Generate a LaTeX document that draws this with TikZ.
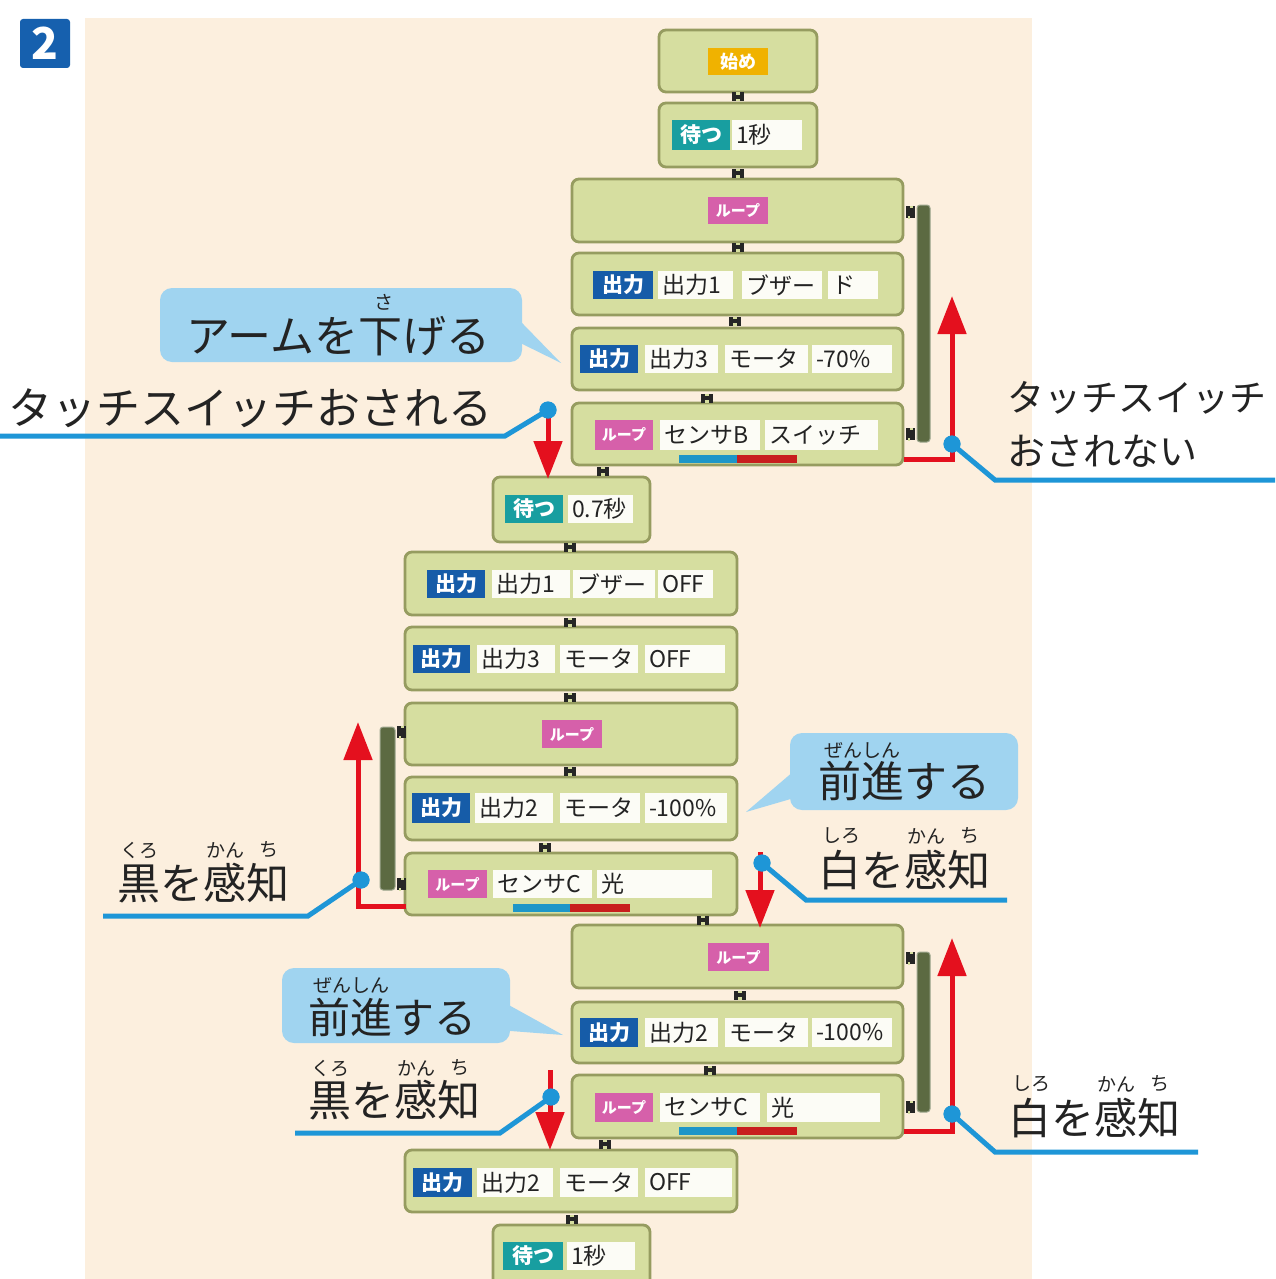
\documentclass[tikz,border=0pt]{standalone}
\usepackage{fontspec}
\newfontfamily\jp{Noto Sans CJK JP}
\usetikzlibrary{arrows.meta,calc}
\definecolor{bgbeige}{RGB}{252,239,222}
\definecolor{blkfill}{RGB}{214,222,160}
\definecolor{blkdraw}{RGB}{150,156,96}
\definecolor{barcol}{RGB}{92,106,66}
\definecolor{outblue}{RGB}{22,92,168}
\definecolor{looppink}{RGB}{214,96,170}
\definecolor{waitteal}{RGB}{24,158,160}
\definecolor{startorg}{RGB}{240,178,0}
\definecolor{valwhite}{RGB}{252,252,246}
\definecolor{txtgray}{RGB}{35,35,35}
\definecolor{calloutblue}{RGB}{160,212,240}
\definecolor{lineblue}{RGB}{30,150,215}
\definecolor{arrred}{RGB}{228,16,30}
\definecolor{badgeblue}{RGB}{22,96,174}
\definecolor{sbarblue}{RGB}{30,150,200}
\definecolor{sbarred}{RGB}{200,30,30}

\newcommand{\blockn}[5]{%
  \pgfmathsetmacro{\qqW}{#4-#2}\pgfmathsetmacro{\qqH}{#5-#3}%
  \pgfmathsetmacro{\qqX}{(#2+#4)/2}\pgfmathsetmacro{\qqY}{(#3+#5)/2}%
  \node[blk, minimum width=\qqW pt, minimum height=\qqH pt] (#1) at (\qqX,\qqY) {};}
\newcommand{\tagn}[7]{%
  \pgfmathsetmacro{\qqW}{#3-#2}\pgfmathsetmacro{\qqH}{#5-#4}%
  \pgfmathsetmacro{\qqX}{(#2+#3)/2}\pgfmathsetmacro{\qqY}{(#4+#5)/2}%
  \node[tagb, fill=#6, minimum width=\qqW pt, minimum height=\qqH pt] (#1) at (\qqX,\qqY) {#7};}
\newcommand{\valn}[6]{%
  \pgfmathsetmacro{\qqW}{#3-#2-8}\pgfmathsetmacro{\qqH}{#5-#4}%
  \pgfmathsetmacro{\qqX}{(#2+#3)/2}\pgfmathsetmacro{\qqY}{(#4+#5)/2}%
  \node[valb, text width=\qqW pt, minimum height=\qqH pt] (#1) at (\qqX,\qqY) {#6};}
\newcommand{\rectn}[6]{%
  \pgfmathsetmacro{\qqW}{#3-#2}\pgfmathsetmacro{\qqH}{#5-#4}%
  \pgfmathsetmacro{\qqX}{(#2+#3)/2}\pgfmathsetmacro{\qqY}{(#4+#5)/2}%
  \node[#6, minimum width=\qqW pt, minimum height=\qqH pt] (#1) at (\qqX,\qqY) {};}

\begin{document}
\begin{tikzpicture}[x=1pt,y=-1pt,
  blk/.style={draw=blkdraw, line width=2.8pt, fill=blkfill, rounded corners=7pt, inner sep=0pt},
  tagb/.style={text=white, inner sep=0pt, font=\jp\bfseries\fontsize{21}{22}\selectfont},
  valb/.style={fill=valwhite, inner xsep=4pt, inner ysep=0pt, align=left, text=txtgray, font=\jp\fontsize{23}{25}\selectfont},
  hc/.style={fill=black!85, minimum width=12pt, minimum height=9pt, inner sep=0pt,
    path picture={\fill[blkfill] ($(path picture bounding box.north)+(-2,0)$) rectangle ($(path picture bounding box.north)+(2,2.5)$);
                  \fill[blkfill] ($(path picture bounding box.south)+(-2,0)$) rectangle ($(path picture bounding box.south)+(2,-2.5)$);}},
  loopbar/.style={fill=barcol, draw=barcol!60!white, line width=1pt, rounded corners=3pt, inner sep=0pt},
  sbarb/.style={fill=sbarblue, inner sep=0pt},
  sbarr/.style={fill=sbarred, inner sep=0pt},
  callout/.style={fill=calloutblue, rounded corners=12pt, inner sep=0pt},
  redarr/.style={draw=arrred, line width=5pt, -{Triangle[width=28pt,length=38pt]}},
  leader/.style={draw=lineblue, line width=5pt},
  ldot/.style={circle, fill=lineblue, minimum size=17pt, inner sep=0pt},
  bigtxt/.style={anchor=west, inner sep=0pt, text=txtgray},
  furi/.style={inner sep=0pt, text=txtgray, font=\jp\fontsize{19}{20}\selectfont}
]
\useasboundingbox (0,0) rectangle (1275,1279);
\fill[white] (0,0) rectangle (1275,1279);
\fill[bgbeige] (85,18) rectangle (1032,1279);

% badge
\node[fill=badgeblue, rounded corners=3pt, minimum width=50pt, minimum height=49pt, inner sep=0pt,
  text=white, font=\jp\bfseries\fontsize{44}{46}\selectfont] (badge) at (45,43.5) {2};

% callouts
\rectn{co1}{160}{522}{288}{362}{callout}
\rectn{co2}{790}{1018}{733}{810}{callout}
\rectn{co3}{282}{510}{968}{1043}{callout}
\coordinate (tip1) at (561,363);
\coordinate (tip2) at (746,812);
\coordinate (tip3) at (563,1035);
\fill[calloutblue] ($(co1.east)+(-6,-8)$) -- (tip1) -- ($(co1.east)+(-6,16)$) -- cycle;
\fill[calloutblue] ($(co2.west)+(6,-2)$) -- (tip2) -- ($(co2.west)+(6,26)$) -- cycle;
\fill[calloutblue] ($(co3.east)+(-6,-3)$) -- (tip3) -- ($(co3.east)+(-6,25)$) -- cycle;

% loop bars
\rectn{lb1}{917}{930}{205}{442}{loopbar}
\rectn{lb2}{380}{395}{727}{890}{loopbar}
\rectn{lb3}{917}{930}{952}{1112}{loopbar}

% blocks
\blockn{b1}{659}{30}{817}{92}
\tagn{t1}{708}{768}{48}{75}{startorg}{\fontsize{18}{19}\selectfont 始め}
\blockn{b2}{659}{103}{817}{167}
\tagn{t2}{672}{730}{120}{150}{waitteal}{待つ}
\valn{v2}{732}{802}{120}{150}{1秒}
\blockn{b3}{572}{179}{903}{242}
\tagn{t3}{708}{768}{197}{224}{looppink}{\fontsize{15}{16}\selectfont ループ}
\blockn{b4}{572}{253}{903}{315}
\tagn{t4}{593}{653}{271}{299}{outblue}{出力}
\valn{v4a}{658}{733}{271}{299}{出力1}
\valn{v4b}{742}{822}{271}{299}{ブザー}
\valn{v4c}{828}{878}{271}{299}{ド}
\blockn{b5}{572}{328}{903}{390}
\tagn{t5}{580}{638}{345}{373}{outblue}{出力}
\valn{v5a}{645}{718}{345}{373}{出力3}
\valn{v5b}{725}{808}{345}{373}{モータ}
\valn{v5c}{812}{892}{345}{373}{-70\%}
\blockn{b6}{572}{403}{903}{465}
\tagn{t6}{595}{653}{420}{450}{looppink}{\fontsize{15}{16}\selectfont ループ}
\valn{v6a}{660}{760}{420}{450}{センサB}
\valn{v6b}{765}{878}{420}{450}{スイッチ}
\rectn{s6a}{679}{737}{455}{463}{sbarb}
\rectn{s6b}{737}{797}{455}{463}{sbarr}
\blockn{b7}{493}{477}{650}{542}
\tagn{t7}{505}{563}{495}{523}{waitteal}{待つ}
\valn{v7}{568}{633}{495}{523}{0.7秒}
\blockn{b8}{405}{552}{737}{615}
\tagn{t8}{427}{485}{570}{598}{outblue}{出力}
\valn{v8a}{492}{570}{570}{598}{出力1}
\valn{v8b}{573}{655}{570}{598}{ブザー}
\valn{v8c}{658}{713}{570}{598}{OFF}
\blockn{b9}{405}{627}{737}{690}
\tagn{t9}{413}{470}{645}{673}{outblue}{出力}
\valn{v9a}{477}{555}{645}{673}{出力3}
\valn{v9b}{560}{638}{645}{673}{モータ}
\valn{v9c}{645}{725}{645}{673}{OFF}
\blockn{b10}{405}{703}{737}{765}
\tagn{t10}{542}{602}{720}{748}{looppink}{\fontsize{15}{16}\selectfont ループ}
\blockn{b11}{405}{777}{737}{840}
\tagn{t11}{412}{470}{793}{823}{outblue}{出力}
\valn{v11a}{475}{553}{793}{823}{出力2}
\valn{v11b}{560}{640}{793}{823}{モータ}
\valn{v11c}{645}{727}{793}{823}{-100\%}
\blockn{b12}{405}{853}{737}{915}
\tagn{t12}{428}{487}{870}{898}{looppink}{\fontsize{15}{16}\selectfont ループ}
\valn{v12a}{493}{592}{870}{898}{センサC}
\valn{v12b}{597}{712}{870}{898}{光}
\rectn{s12a}{513}{570}{904}{912}{sbarb}
\rectn{s12b}{570}{630}{904}{912}{sbarr}
\blockn{b13}{572}{925}{903}{988}
\tagn{t13}{708}{769}{943}{971}{looppink}{\fontsize{15}{16}\selectfont ループ}
\blockn{b14}{572}{1002}{903}{1063}
\tagn{t14}{580}{638}{1018}{1047}{outblue}{出力}
\valn{v14a}{645}{718}{1018}{1047}{出力2}
\valn{v14b}{725}{808}{1018}{1047}{モータ}
\valn{v14c}{812}{892}{1018}{1047}{-100\%}
\blockn{b15}{572}{1075}{903}{1138}
\tagn{t15}{595}{653}{1093}{1122}{looppink}{\fontsize{15}{16}\selectfont ループ}
\valn{v15a}{660}{760}{1093}{1122}{センサC}
\valn{v15b}{767}{880}{1093}{1122}{光}
\rectn{s15a}{679}{737}{1127}{1135}{sbarb}
\rectn{s15b}{737}{797}{1127}{1135}{sbarr}
\blockn{b16}{405}{1150}{737}{1212}
\tagn{t16}{413}{472}{1168}{1197}{outblue}{出力}
\valn{v16a}{477}{553}{1168}{1197}{出力2}
\valn{v16b}{560}{638}{1168}{1197}{モータ}
\valn{v16c}{645}{732}{1168}{1197}{OFF}
\blockn{b17}{493}{1225}{650}{1300}
\tagn{t17}{503}{563}{1242}{1270}{waitteal}{待つ}
\valn{v17}{567}{635}{1242}{1270}{1秒}

% block connectors
\node[hc] (c1) at (738,97) {};
\node[hc] (c2) at (738,173) {};
\node[hc] (c3) at (738,247) {};
\node[hc] (c4) at (735,321) {};
\node[hc] (c5) at (707,398) {};
\node[hc] (c6) at (603,471) {};
\node[hc] (c7) at (570,547) {};
\node[hc] (c8) at (570,622) {};
\node[hc] (c9) at (570,697) {};
\node[hc] (c10) at (570,771) {};
\node[hc] (c11) at (545,847) {};
\node[hc] (c12) at (703,920) {};
\node[hc] (c13) at (740,995) {};
\node[hc] (c14) at (710,1070) {};
\node[hc] (c15) at (605,1144) {};
\node[hc] (c16) at (572,1219) {};
% loop nubs
\node[hc, rotate=90] (n1) at (910,212) {};
\node[hc, rotate=90] (n2) at (910,434) {};
\node[hc, rotate=90] (n3) at (401,732) {};
\node[hc, rotate=90] (n4) at (401,884) {};
\node[hc, rotate=90] (n5) at (910,958) {};
\node[hc, rotate=90] (n6) at (910,1107) {};

% red arrows
\coordinate (ra1s) at (904,459); \coordinate (ra1c) at (952,459); \coordinate (ra1e) at (952,296);
\draw[redarr] (ra1s) -- (ra1c) -- (ra1e);
\coordinate (ra2s) at (548,405); \coordinate (ra2e) at (548,479);
\draw[redarr] (ra2s) -- (ra2e);
\coordinate (ra3s) at (406,906); \coordinate (ra3c) at (358,906); \coordinate (ra3e) at (358,722);
\draw[redarr] (ra3s) -- (ra3c) -- (ra3e);
\coordinate (ra4s) at (760,852); \coordinate (ra4e) at (760,928);
\draw[redarr] (ra4s) -- (ra4e);
\coordinate (ra5s) at (904,1131); \coordinate (ra5c) at (952,1131); \coordinate (ra5e) at (952,938);
\draw[redarr] (ra5s) -- (ra5c) -- (ra5e);
\coordinate (ra6s) at (550,1070); \coordinate (ra6e) at (550,1150);
\draw[redarr] (ra6s) -- (ra6e);

% blue leaders
\node[ldot] (d1) at (548,410) {};
\coordinate (l1a) at (505,436); \coordinate (l1b) at (0,436);
\draw[leader] (d1.center) -- (l1a) -- (l1b);
\node[ldot] (d2) at (952,444) {};
\coordinate (l2a) at (995,480); \coordinate (l2b) at (1275,480);
\draw[leader] (d2.center) -- (l2a) -- (l2b);
\node[ldot] (d3) at (361,880) {};
\coordinate (l3a) at (308,916); \coordinate (l3b) at (103,916);
\draw[leader] (d3.center) -- (l3a) -- (l3b);
\node[ldot] (d4) at (762,863) {};
\coordinate (l4a) at (806,900); \coordinate (l4b) at (1007,900);
\draw[leader] (d4.center) -- (l4a) -- (l4b);
\node[ldot] (d5) at (952,1114) {};
\coordinate (l5a) at (995,1152); \coordinate (l5b) at (1198,1152);
\draw[leader] (d5.center) -- (l5a) -- (l5b);
\node[ldot] (d6) at (551,1097) {};
\coordinate (l6a) at (500,1133); \coordinate (l6b) at (295,1133);
\draw[leader] (d6.center) -- (l6a) -- (l6b);
\node[ldot] at (d1) {};
\node[ldot] at (d2) {};
\node[ldot] at (d3) {};
\node[ldot] at (d4) {};
\node[ldot] at (d5) {};
\node[ldot] at (d6) {};

% big labels
\node[bigtxt, font=\jp\fontsize{44}{46}\selectfont] (lab1) at (186,336) {アームを下げる};
\node[furi] (f1) at (384,302) {さ};
\node[bigtxt, font=\jp\fontsize{44}{46}\selectfont] (lab2) at (8,408) {タッチスイッチおされる};
\node[bigtxt, font=\jp\fontsize{37}{40}\selectfont] (lab3) at (1007,398) {タッチスイッチ};
\node[bigtxt, font=\jp\fontsize{38}{40}\selectfont] (lab4) at (1007,451) {おされない};
\node[bigtxt, font=\jp\fontsize{43}{45}\selectfont] (lab5) at (818,781) {前進する};
\node[furi] (f5) at (862,750) {ぜんしん};
\node[bigtxt, font=\jp\fontsize{43}{45}\selectfont] (lab6) at (818,870) {白を感知};
\node[furi] (f6a) at (841,836) {しろ};
\node[furi] (f6b) at (926,836) {かん};
\node[furi] (f6c) at (970,836) {ち};
\node[bigtxt, font=\jp\fontsize{43}{45}\selectfont] (lab7) at (117,883) {黒を感知};
\node[furi] (f7a) at (139,850) {くろ};
\node[furi] (f7b) at (225,850) {かん};
\node[furi] (f7c) at (269,850) {ち};
\node[bigtxt, font=\jp\fontsize{42}{44}\selectfont] (lab8) at (308,1017) {前進する};
\node[furi] (f8) at (351,985) {ぜんしん};
\node[bigtxt, font=\jp\fontsize{43}{45}\selectfont] (lab9) at (308,1100) {黒を感知};
\node[furi] (f9a) at (330,1068) {くろ};
\node[furi] (f9b) at (416,1068) {かん};
\node[furi] (f9c) at (460,1068) {ち};
\node[bigtxt, font=\jp\fontsize{43}{45}\selectfont] (lab10) at (1008,1118) {白を感知};
\node[furi] (f10a) at (1031,1084) {しろ};
\node[furi] (f10b) at (1116,1084) {かん};
\node[furi] (f10c) at (1160,1084) {ち};
\end{tikzpicture}
\end{document}
